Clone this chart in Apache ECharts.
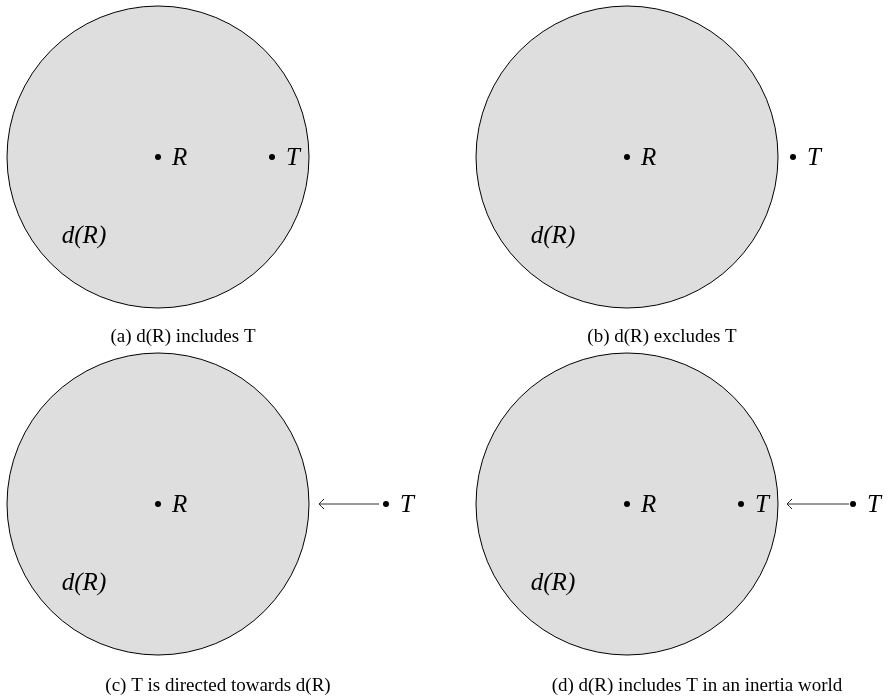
<!DOCTYPE html>
<html><head><meta charset="utf-8">
<script src="https://cdn.jsdelivr.net/npm/echarts@6/dist/echarts.min.js"></script>
<style>html,body{margin:0;padding:0;background:#fff}#c{width:891px;height:697px}</style>
</head><body><div id="c"></div>
<script>
// Panel geometry (diagram units = page pixels)
const panelIds   = ['a', 'b', 'c', 'd'];
const panelCX    = [158, 627, 158, 627];
const panelCY    = [157, 157, 504, 504];
const radius     = 151;
const captions   = ['(a) d(R) includes T', '(b) d(R) excludes T', '(c) T is directed towards d(R)', '(d) d(R) includes T in an inertia world'];
const captionX   = [183, 662, 218, 697];
const captionY   = [337, 337, 686, 686];
// points: [panel index, x offset from centre, label]
const pointPanel = [0, 0, 1, 1, 2, 2, 3, 3, 3];
const pointDX    = [0, 114, 0, 166, 0, 228, 0, 114, 226];
const pointName  = ['R', 'T', 'R', 'T', 'R', 'T', 'R', 'T', 'T'];
// arrows: panel index, start and tip x offsets from centre
const arrowPanel = [2, 3];
const arrowFrom  = [221, 222];
const arrowTo    = [161, 160];
const regionLabel = 'd(R)';
const regionDX = -74, regionDY = 79;

const circleData = panelIds.map((p, i) => [panelCX[i], panelCY[i], radius]);
const pointData = pointName.map((n, i) => ({name: n, value: [panelCX[pointPanel[i]] + pointDX[i], panelCY[pointPanel[i]]]}));
const arrowData = arrowPanel.map((p, i) => [panelCX[p] + arrowFrom[i], panelCY[p], panelCX[p] + arrowTo[i], panelCY[p]]);
const regionData = panelIds.map((p, i) => [panelCX[i] + regionDX, panelCY[i] + regionDY]);
const captionData = captions.map((t, i) => ({name: t, value: [captionX[i], captionY[i]]}));

const chart = echarts.init(document.getElementById('c'));
chart.setOption({
  animation: false,
  backgroundColor: '#ffffff',
  grid: {left: 0, right: 0, top: 0, bottom: 0},
  xAxis: {type: 'value', min: 0, max: 891, show: false},
  yAxis: {type: 'value', min: 0, max: 697, inverse: true, show: false},
  series: [
    {
      type: 'custom', data: circleData, silent: true, z: 1,
      renderItem: (params, api) => {
        const c = api.coord([api.value(0), api.value(1)]);
        const s = api.size([api.value(2), api.value(2)]);
        return {type: 'circle', shape: {cx: c[0], cy: c[1], r: s[0]},
          style: {fill: '#dedede', stroke: '#000000', lineWidth: 1}};
      }
    },
    {
      type: 'custom', data: arrowData, silent: true, z: 2,
      renderItem: (params, api) => {
        const a = api.coord([api.value(0), api.value(1)]);
        const b = api.coord([api.value(2), api.value(3)]);
        return {type: 'group', children: [
          {type: 'line', shape: {x1: a[0], y1: a[1], x2: b[0] + 1, y2: b[1]},
            style: {stroke: '#333', lineWidth: 1}},
          {type: 'bezierCurve', shape: {x1: b[0] + 5, y1: b[1] - 5, cpx1: b[0] + 2, cpy1: b[1] - 2, x2: b[0], y2: b[1]},
            style: {stroke: '#222', lineWidth: 1, fill: null}},
          {type: 'bezierCurve', shape: {x1: b[0] + 5, y1: b[1] + 5, cpx1: b[0] + 2, cpy1: b[1] + 2, x2: b[0], y2: b[1]},
            style: {stroke: '#222', lineWidth: 1, fill: null}}
        ]};
      }
    },
    {
      type: 'scatter', data: pointData, symbol: 'circle', symbolSize: 6, z: 3, silent: true,
      itemStyle: {color: '#000', opacity: 1},
      label: {show: true, position: 'right', distance: 11, formatter: '{b}', offset: [0, 1],
        fontFamily: 'Liberation Serif', fontStyle: 'italic', fontSize: 25, color: '#000'}
    },
    {
      type: 'custom', data: regionData, silent: true, z: 3,
      renderItem: (params, api) => {
        const c = api.coord([api.value(0), api.value(1)]);
        return {type: 'text', x: c[0], y: c[1], style: {text: regionLabel,
          font: 'italic 25px "Liberation Serif"', fill: '#000', align: 'center', verticalAlign: 'middle'}};
      }
    },
    {
      type: 'custom', data: captionData, silent: true, z: 3,
      renderItem: (params, api) => {
        const c = api.coord([api.value(0), api.value(1)]);
        return {type: 'text', x: c[0], y: c[1], style: {text: captions[params.dataIndex],
          font: '19px "Liberation Serif"', fill: '#000', align: 'center', verticalAlign: 'middle'}};
      }
    }
  ]
});
</script></body></html>
